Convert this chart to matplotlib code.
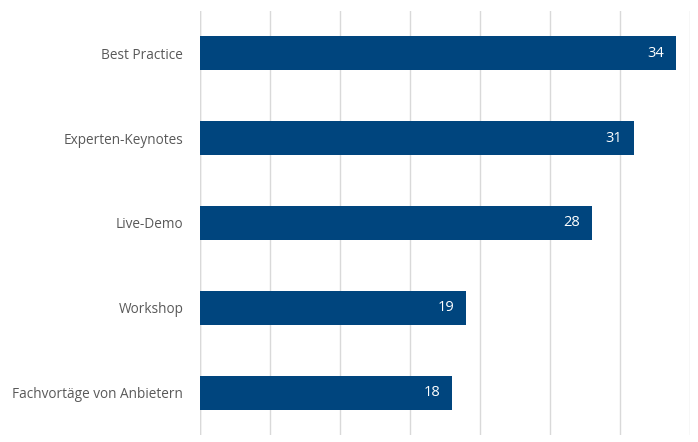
import matplotlib
matplotlib.use("Agg")
import matplotlib.pyplot as plt

categories = ["Best Practice", "Experten-Keynotes", "Live-Demo", "Workshop",
              "Fachvortäge von Anbietern"]
values = [34, 31, 28, 19, 18]

plt.rcParams['font.family'] = ['Open Sans', 'DejaVu Sans']

fig = plt.figure(figsize=(6.98, 4.42), dpi=100)
ax = fig.add_axes([200 / 698, 7 / 442, 490 / 698, 424 / 442])

pos = list(range(len(categories)))
bars = ax.barh(pos, values, height=0.4, color="#00457E", zorder=3)

for b, v in zip(bars, values):
    ax.text(b.get_width() - 0.85, b.get_y() + b.get_height() / 2, str(v),
            ha="right", va="center", color="white", fontsize=10.5)

ax.set_xlim(0, 35)
ax.set_ylim(len(categories) - 0.5, -0.5)
ax.set_xticks(range(0, 36, 5))
ax.set_xticklabels([])
ax.tick_params(axis="x", length=0)
ax.tick_params(axis="y", length=0, pad=12)
ax.set_yticks(pos)
ax.set_yticklabels(categories, fontsize=9.8, color="#595959")
ax.grid(axis="x", color="#D9D9D9", linewidth=1, zorder=0)
for s in ax.spines.values():
    s.set_visible(False)
ax.axvline(0, color="#D9D9D9", linewidth=1, zorder=1)

fig.savefig("out.png", dpi=100)
